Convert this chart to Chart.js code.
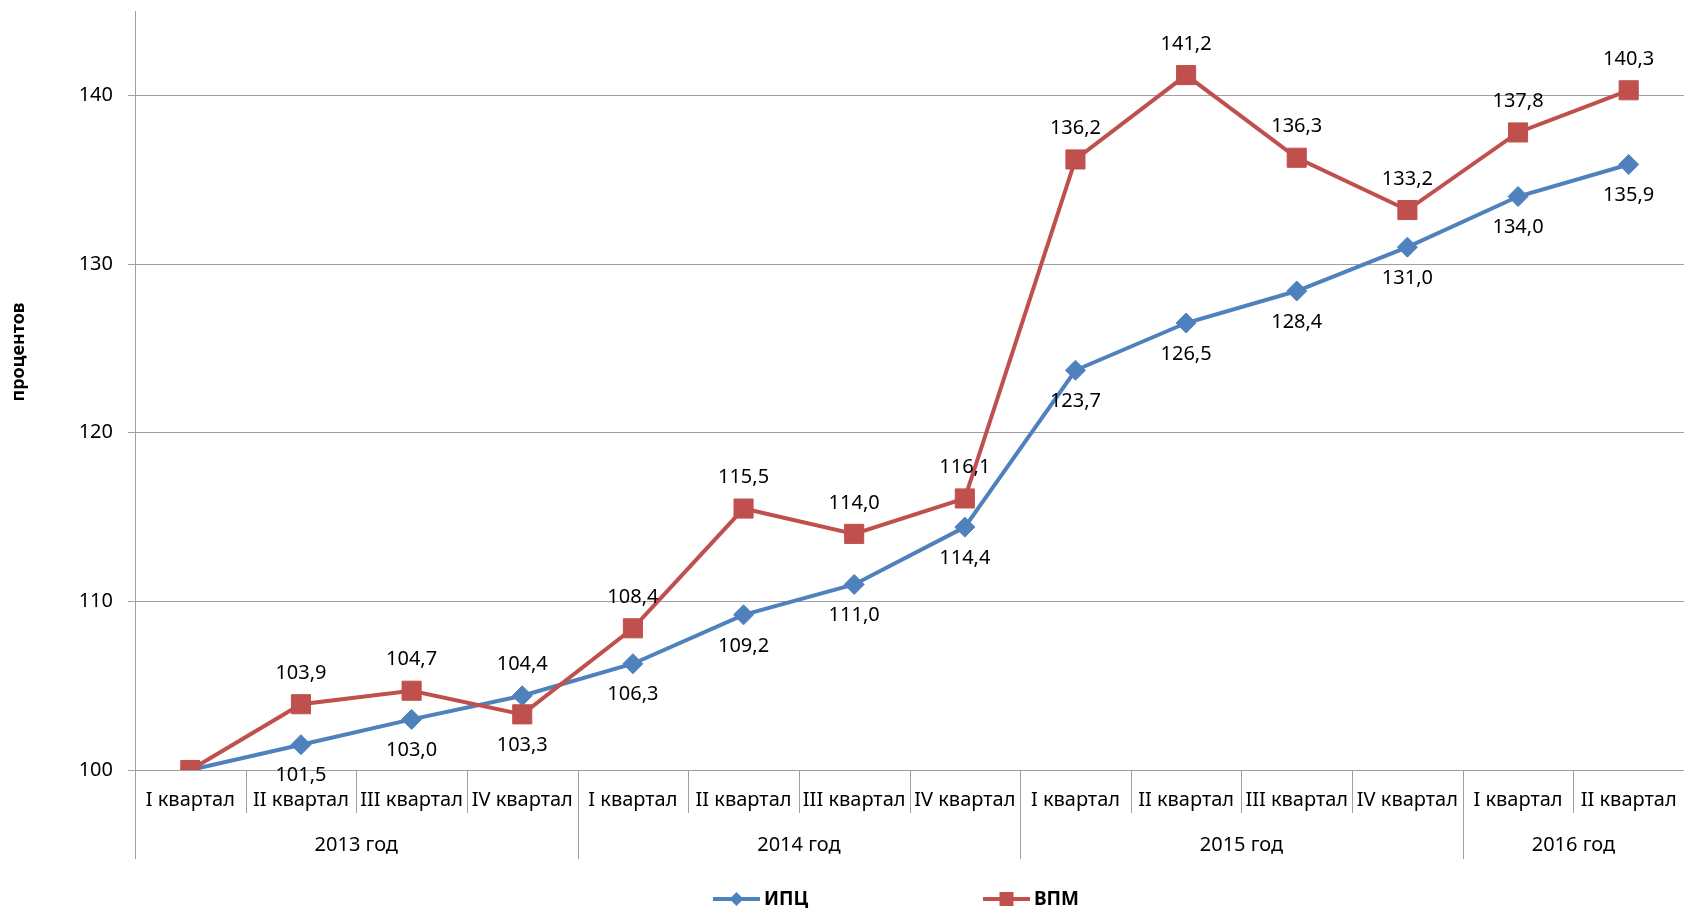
<!DOCTYPE html>
<html>
<head>
<meta charset="utf-8">
<script src="https://cdn.jsdelivr.net/npm/chart.js@4"></script>
<style>
  html, body { margin: 0; padding: 0; background: #fff; }
  #wrap { width: 1684px; height: 910px; }
</style>
</head>
<body>
<div id="wrap"><canvas id="chart" width="1684" height="910"></canvas></div>
<script>
const quarters = ['I квартал', 'II квартал', 'III квартал', 'IV квартал',
    'I квартал', 'II квартал', 'III квартал', 'IV квартал',
    'I квартал', 'II квартал', 'III квартал', 'IV квартал',
    'I квартал', 'II квартал']
const years = ['2013 год', '2014 год', '2015 год', '2016 год']
const yearSpans = [4, 4, 4, 2]
const ipc = [100, 101.5, 103.0, 104.4, 106.3, 109.2, 111.0, 114.4, 123.7, 126.5, 128.4, 131.0, 134.0, 135.9]
const vpm = [100, 103.9, 104.7, 103.3, 108.4, 115.5, 114.0, 116.1, 136.2, 141.2, 136.3, 133.2, 137.8, 140.3]
// where the ИПЦ label goes above instead of below (the two lines swap there)
const ipcLabelAbove = [3]
const yTicks = [100, 110, 120, 130, 140]

const FONT = '"Noto Sans", "Open Sans", sans-serif'
const BLUE = '#4F81BD'
const RED = '#C0504D'
const GRID = '#a0a0a0'

function fmt(v) {
    return v.toFixed(1).replace('.', ',')
}

const extras = {
    id: 'extras',
    afterDatasetsDraw(chart) {
        const ctx = chart.ctx
        ctx.save()
        ctx.font = '20px ' + FONT
        ctx.fillStyle = '#000'
        ctx.textAlign = 'center'
        ctx.textBaseline = 'middle'
        chart.data.datasets.forEach((ds, di) => {
            const meta = chart.getDatasetMeta(di)
            meta.data.forEach((pt, i) => {
                if (i === 0) return
                let below = ds.label === 'ИПЦ'
                if (ipcLabelAbove.includes(i)) below = !below
                ctx.fillText(fmt(ds.data[i]), pt.x, pt.y + (below ? 31 : -31))
            })
        })
        ctx.restore()
    },
    afterDraw(chart) {
        const ctx = chart.ctx
        const area = chart.chartArea
        const xs = chart.scales.x
        const n = quarters.length
        const bounds = []
        for (let i = 0; i <= n; i++) {
            if (i === 0) bounds.push(area.left)
            else if (i === n) bounds.push(area.right)
            else bounds.push((xs.getPixelForValue(i - 1) + xs.getPixelForValue(i)) / 2)
        }
        ctx.save()
        ctx.strokeStyle = GRID
        ctx.lineWidth = 1
        // separators under the axis
        let yearStarts = [0]
        yearSpans.forEach(s => yearStarts.push(yearStarts[yearStarts.length - 1] + s))
        for (let i = 0; i < n; i++) {
            let x = Math.round(bounds[i]) + 0.5
            let long = yearStarts.includes(i)
            ctx.beginPath()
            ctx.moveTo(x, area.bottom)
            ctx.lineTo(x, long ? 859 : 813)
            ctx.stroke()
        }
        // quarter labels
        ctx.fillStyle = '#000'
        ctx.font = '20px ' + FONT
        ctx.textAlign = 'center'
        ctx.textBaseline = 'middle'
        quarters.forEach((q, i) => ctx.fillText(q, xs.getPixelForValue(i), 800))
        // year labels
        years.forEach((y, k) => {
            let a = bounds[yearStarts[k]]
            let b = bounds[yearStarts[k + 1]]
            ctx.fillText(y, (a + b) / 2, 845)
        })
        // axis title
        ctx.save()
        ctx.translate(19, 352)
        ctx.rotate(-Math.PI / 2)
        ctx.font = 'bold 18px ' + FONT
        ctx.fillText('процентов', 0, 0)
        ctx.restore()
        // legend
        const legend = [
            { label: 'ИПЦ', color: BLUE, style: 'diamond', x0: 713, x1: 760 },
            { label: 'ВПМ', color: RED, style: 'square', x0: 983, x1: 1030 }
        ]
        const ly = 899
        legend.forEach(l => {
            ctx.strokeStyle = l.color
            ctx.fillStyle = l.color
            ctx.lineWidth = 4
            ctx.beginPath()
            ctx.moveTo(l.x0, ly)
            ctx.lineTo(l.x1, ly)
            ctx.stroke()
            let cx = (l.x0 + l.x1) / 2
            ctx.beginPath()
            if (l.style === 'diamond') {
                ctx.moveTo(cx, ly - 7)
                ctx.lineTo(cx + 7, ly)
                ctx.lineTo(cx, ly + 7)
                ctx.lineTo(cx - 7, ly)
                ctx.closePath()
            } else {
                ctx.rect(cx - 7, ly - 7, 14, 14)
            }
            ctx.fill()
            ctx.fillStyle = '#000'
            ctx.font = 'bold 19px ' + FONT
            ctx.textAlign = 'left'
            ctx.fillText(l.label, l.x1 + 4, ly + 1)
        })
        ctx.restore()
    }
}

new Chart(document.getElementById('chart'), {
    type: 'line',
    data: {
        labels: quarters,
        datasets: [{
            label: 'ИПЦ',
            data: ipc,
            borderColor: BLUE,
            backgroundColor: BLUE,
            borderWidth: 4,
            pointStyle: 'rectRot',
            pointRadius: 10,
            pointBorderWidth: 1,
            pointBorderColor: BLUE,
            pointBackgroundColor: BLUE,
            tension: 0,
            order: 1
        }, {
            label: 'ВПМ',
            data: vpm,
            borderColor: RED,
            backgroundColor: RED,
            borderWidth: 4,
            pointStyle: 'rect',
            pointRadius: 13.5,
            pointBorderWidth: 1,
            pointBorderColor: RED,
            pointBackgroundColor: RED,
            tension: 0,
            order: 0
        }]
    },
    options: {
        responsive: false,
        animation: false,
        devicePixelRatio: 1,
        layout: { autoPadding: false, padding: { top: 11, bottom: 140, left: 0, right: 0 } },
        plugins: {
            legend: { display: false },
            tooltip: { enabled: false }
        },
        scales: {
            x: {
                display: false,
                offset: true
            },
            y: {
                min: 100,
                max: 145,
                afterBuildTicks: s => { s.ticks = yTicks.map(v => ({ value: v })) },
                afterFit: s => { s.width = 135; s.paddingTop = 0; s.paddingBottom = 0 },
                ticks: {
                    color: '#000',
                    padding: 15,
                    font: { family: FONT, size: 20 }
                },
                grid: {
                    color: GRID,
                    lineWidth: 1,
                    tickLength: 7
                },
                border: { color: GRID, width: 1 }
            }
        }
    },
    plugins: [extras]
})
</script>
</body>
</html>
